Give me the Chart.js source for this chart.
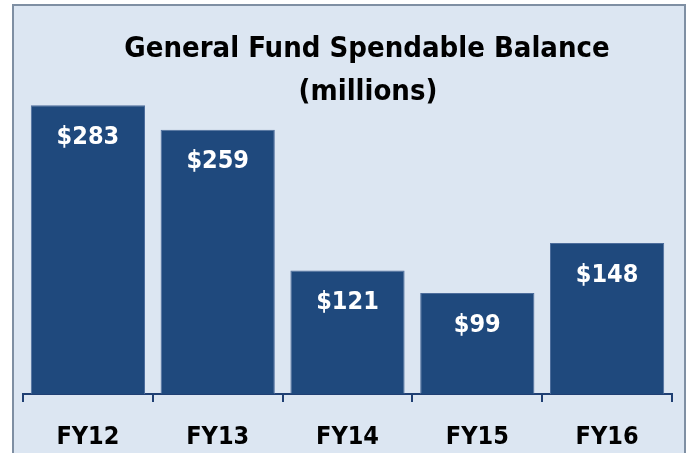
<!DOCTYPE html>
<html>
<head>
<meta charset="utf-8">
<script src="https://cdn.jsdelivr.net/npm/chart.js@4"></script>
<style>
  html, body { margin: 0; padding: 0; background: #fff; overflow: hidden; }
  #panel {
    position: absolute; left: 12px; top: 4px;
    width: 670px; height: 460px;
    background: #dce6f2;
    border: 2px solid #7f8fa3; border-bottom: none;
  }
  #wrap { position: absolute; left: 0; top: 0; width: 688px; height: 478px; }
</style>
</head>
<body>
<div id="panel"></div>
<div id="wrap"><canvas id="fundChart" width="688" height="478"></canvas></div>
<script>
const categories = ["FY12", "FY13", "FY14", "FY15", "FY16"];
const balances = [283, 259, 121, 99, 148];
const titleLines = ["General Fund Spendable Balance", "(millions)"];

const FONT = "'DejaVu Sans Condensed', 'DejaVu Sans', sans-serif";

// title drawn by hand so the bars can sit right under it
const titlePlugin = {
  id: "titleText",
  afterDraw(chart) {
    const ctx = chart.ctx;
    ctx.save();
    ctx.fillStyle = "#000";
    ctx.font = "bold 29px " + FONT;
    ctx.textAlign = "center";
    ctx.textBaseline = "middle";
    ctx.fillText(titleLines[0], 367, 49);
    ctx.fillText(titleLines[1], 368, 92);
    ctx.restore();
  }
};

// "$283" style labels inside the top of each bar
const valueLabels = {
  id: "valueLabels",
  afterDatasetsDraw(chart) {
    const ctx = chart.ctx;
    const meta = chart.getDatasetMeta(0);
    ctx.save();
    ctx.fillStyle = "#fff";
    ctx.font = "bold 25px " + FONT;
    ctx.textAlign = "center";
    ctx.textBaseline = "middle";
    meta.data.forEach((bar, i) => {
      ctx.fillText("$" + balances[i], bar.x, bar.y + 32);
    });
    ctx.restore();
  }
};

new Chart(document.getElementById("fundChart"), {
  type: "bar",
  data: {
    labels: categories,
    datasets: [{
      data: balances,
      backgroundColor: "#1f497d",
      borderColor: "#4d6d9c",
      borderWidth: 1,
      barPercentage: 0.88,
      categoryPercentage: 1
    }]
  },
  options: {
    responsive: false,
    animation: false,
    layout: { padding: { top: 88, left: 23, right: 16, bottom: 6 } },
    plugins: { legend: { display: false }, tooltip: { enabled: false } },
    scales: {
      x: {
        border: { display: true, color: "#1f3f73", width: 2 },
        grid: { drawOnChartArea: false, drawTicks: true, tickLength: 8, color: "#1f3f73", lineWidth: 2 },
        ticks: { color: "#000", padding: 20, font: { family: FONT, size: 25, weight: "bold" } }
      },
      y: { display: false, min: 0, max: 300 }
    }
  },
  plugins: [titlePlugin, valueLabels]
});
</script>
</body>
</html>
